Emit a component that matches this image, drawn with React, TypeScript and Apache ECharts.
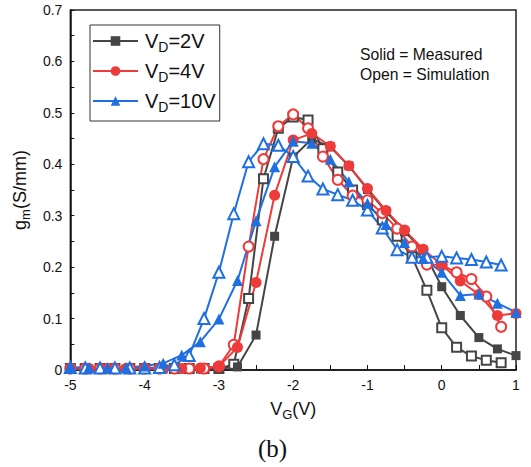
import React, { useEffect, useRef } from "react";
import * as echarts from "echarts";

// Measured data: V_G from -5 to 1 in 0.25 V steps
const measuredVG = [
  -5, -4.75, -4.5, -4.25, -4, -3.75, -3.5, -3.25, -3, -2.75, -2.5, -2.25, -2,
  -1.75, -1.5, -1.25, -1, -0.75, -0.5, -0.25, 0, 0.25, 0.5, 0.75, 1,
];
// Simulation data: V_G from -5 to 0.8 in 0.2 V steps
const simVG = [
  -5, -4.8, -4.6, -4.4, -4.2, -4, -3.8, -3.6, -3.4, -3.2, -3, -2.8, -2.6, -2.4,
  -2.2, -2, -1.8, -1.6, -1.4, -1.2, -1, -0.8, -0.6, -0.4, -0.2, 0, 0.2, 0.4,
  0.6, 0.8,
];

const vd2Measured = [
  0.002, 0.002, 0.002, 0.002, 0.002, 0.002, 0.002, 0.002, 0.003, 0.006, 0.068,
  0.26, 0.414, 0.449, 0.434, 0.397, 0.351, 0.308, 0.269, 0.233, 0.162, 0.106,
  0.063, 0.041, 0.028,
];
const vd4Measured = [
  0.003, 0.003, 0.003, 0.003, 0.003, 0.003, 0.003, 0.004, 0.007, 0.044, 0.17,
  0.34, 0.447, 0.46, 0.435, 0.397, 0.353, 0.31, 0.272, 0.235, 0.204, 0.173,
  0.147, 0.106, 0.11,
];
const vd10Measured = [
  0.005, 0.005, 0.005, 0.005, 0.008, 0.013, 0.029, 0.055, 0.099, 0.174, 0.29,
  0.395, 0.445, 0.441, 0.41, 0.366, 0.324, 0.283, 0.248, 0.217, 0.19, 0.145,
  0.148, 0.13, 0.112,
];

const vd2Sim = [
  0.003, 0.003, 0.003, 0.003, 0.003, 0.003, 0.003, 0.003, 0.003, 0.003, 0.003,
  0.011, 0.139, 0.372, 0.47, 0.492, 0.486, 0.43, 0.385, 0.35, 0.322, 0.292,
  0.26, 0.22, 0.155, 0.082, 0.044, 0.027, 0.019, 0.014,
];
const vd4Sim = [
  0.003, 0.003, 0.003, 0.003, 0.003, 0.003, 0.003, 0.003, 0.003, 0.003, 0.007,
  0.049, 0.24, 0.41, 0.474, 0.497, 0.47, 0.415, 0.37, 0.339, 0.33, 0.305,
  0.275, 0.24, 0.205, 0.204, 0.19, 0.177, 0.143, 0.084,
];
const vd10Sim = [
  0.005, 0.004, 0.004, 0.004, 0.004, 0.004, 0.005, 0.01, 0.028, 0.1, 0.19,
  0.304, 0.405, 0.44, 0.437, 0.415, 0.377, 0.352, 0.341, 0.33, 0.311, 0.276,
  0.234, 0.219, 0.219, 0.221, 0.218, 0.215, 0.21, 0.204,
];

const legendNames = ["V{sub|D}=2V", "V{sub|D}=4V", "V{sub|D}=10V"];
const xTickMin = -5;
const xTickMax = 1;
const yTickMin = 0;
const yTickMax = 0.7;

const GRAY = "#454545";
const RED = "#ef3a3a";
const BLUE = "#1f6fe0";
const FONT = "'Liberation Sans', Arial, sans-serif";

function pairs(xs: number[], ys: number[]) {
  return xs.map((x, i) => [x, ys[i]]);
}

export default function App() {
  const ref = useRef<HTMLDivElement>(null);

  useEffect(() => {
    if (!ref.current) return;
    const chart = echarts.init(ref.current, undefined, { renderer: "svg" });

    const solid = (name: string, ys: number[], color: string, symbol: string, size: number) => ({
      name,
      type: "line",
      data: pairs(measuredVG, ys),
      symbol,
      symbolSize: size,
      lineStyle: { color, width: 2 },
      itemStyle: { color, borderWidth: 0 },
      emphasis: { disabled: true },
    });
    const open = (name: string, ys: number[], color: string, symbol: string, size: number) => ({
      name,
      type: "line",
      data: pairs(simVG, ys),
      symbol,
      symbolSize: size,
      lineStyle: { color, width: 2 },
      itemStyle: { color, borderColor: color, borderWidth: 1.1 },
      emphasis: { disabled: true },
    });

    const subRich = {
      sub: { fontSize: 14, fontFamily: FONT, padding: [12, 0, 0, 0], lineHeight: 14, color: "#111" },
    };
    const axisSubRich = {
      sub: { fontSize: 13, fontFamily: FONT, padding: [11, 0, 0, 0], lineHeight: 13, color: "#111" },
    };

    chart.setOption({
      animation: false,
      backgroundColor: "#fff",
      grid: {
        left: 67,
        top: 10,
        right: 15,
        bottom: 97,
        show: true,
        borderColor: "#222",
        borderWidth: 1.5,
      },
      legend: {
        data: legendNames,
        orient: "vertical",
        left: 90,
        top: 25,
        itemWidth: 45,
        itemHeight: 12,
        itemGap: 4,
        padding: [3, 4, 7, 2],
        borderColor: "#333",
        borderWidth: 1,
        selectedMode: false,
        textStyle: {
          fontSize: 20,
          fontFamily: FONT,
          color: "#111",
          padding: [0, 0, 0, 2],
          rich: subRich,
        },
      },
      xAxis: {
        type: "value",
        min: xTickMin,
        max: xTickMax,
        interval: 1,
        name: "V{sub|G}(V)",
        nameLocation: "middle",
        nameGap: 26,
        nameTextStyle: {
          fontSize: 18,
          fontFamily: FONT,
          color: "#111",
          rich: axisSubRich,
        },
        axisLine: { onZero: false, lineStyle: { color: "#111", width: 1.5 } },
        axisTick: { inside: true, length: 5, lineStyle: { color: "#111", width: 1 } },
        minorTick: { show: true, splitNumber: 2, length: 5, lineStyle: { color: "#111", width: 1 } },
        splitLine: { show: false },
        axisLabel: { fontSize: 14, fontFamily: FONT, color: "#111", margin: 8 },
      },
      yAxis: {
        type: "value",
        min: yTickMin,
        max: yTickMax,
        interval: 0.1,
        name: "g{sub|m}(S/mm)",
        nameLocation: "middle",
        nameRotate: 90,
        nameGap: 30,
        nameTextStyle: {
          fontSize: 18,
          fontFamily: FONT,
          color: "#111",
          rich: axisSubRich,
        },
        axisLine: { show: true, onZero: false, lineStyle: { color: "#111", width: 1.5 } },
        axisTick: { show: true, inside: true, length: 4, lineStyle: { color: "#111", width: 1 } },
        minorTick: { show: true, splitNumber: 2, length: 4, lineStyle: { color: "#111", width: 1 } },
        splitLine: { show: false },
        axisLabel: { fontSize: 14, fontFamily: FONT, color: "#111", margin: 8 },
      },
      graphic: [
        {
          type: "text",
          left: 360,
          top: 44,
          style: {
            text: "Solid = Measured\nOpen = Simulation",
            fontSize: 15.7,
            lineHeight: 20,
            fontFamily: FONT,
            fill: "#111",
          },
        },
        {
          type: "text",
          left: 258,
          top: 436,
          style: {
            text: "(b)",
            fontSize: 25,
            fontFamily: "'Liberation Serif', 'Times New Roman', serif",
            fill: "#111",
          },
        },
      ],
      series: [
        open("sim2", vd2Sim, GRAY, "emptyRect", 9),
        solid(legendNames[0], vd2Measured, GRAY, "rect", 9),
        open("sim4", vd4Sim, RED, "emptyCircle", 10),
        solid(legendNames[1], vd4Measured, RED, "circle", 11),
        open("sim10", vd10Sim, BLUE, "emptyTriangle", 11),
        solid(legendNames[2], vd10Measured, BLUE, "triangle", 11),
      ],
    });

    return () => chart.dispose();
  }, []);

  return (
    <div
      ref={ref}
      style={{ position: "fixed", left: 0, top: 0, width: 531, height: 467, background: "#fff" }}
    />
  );
}
